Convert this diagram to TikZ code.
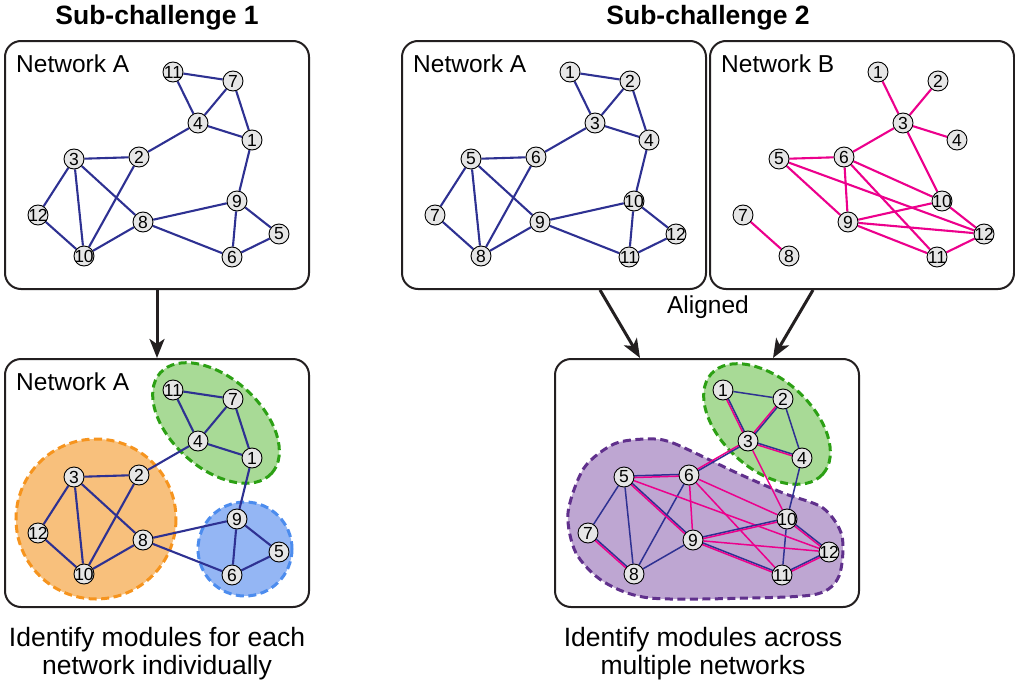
\documentclass[tikz,border=0pt]{standalone}
\usepackage{fontspec}
\setmainfont{Liberation Sans}
\usetikzlibrary{positioning,calc,arrows.meta}

\definecolor{navy}{RGB}{46,49,146}
\definecolor{pinkedge}{RGB}{236,0,140}
\definecolor{vgray}{RGB}{230,230,230}
\definecolor{ink}{RGB}{35,31,32}
\definecolor{greenfill}{RGB}{168,218,150}
\definecolor{greenline}{RGB}{44,160,20}
\definecolor{orangefill}{RGB}{248,192,124}
\definecolor{orangeline}{RGB}{246,148,30}
\definecolor{bluefill}{RGB}{148,182,244}
\definecolor{blueline}{RGB}{76,140,238}
\definecolor{purplefill}{RGB}{190,166,210}
\definecolor{purpleline}{RGB}{96,48,140}

\pgfdeclarelayer{blobs}
\pgfdeclarelayer{edges}
\pgfsetlayers{blobs,edges,main}

\newcommand{\leftnet}[1]{%
  \foreach \n/\x/\y in {11/169/32, 7/229/41, 4/194/83, 1/248/100, 3/70/119, 2/135/117,
      12/34/175, 10/80/216, 8/139/182, 9/233/161, 6/228/217, 5/275/194}
    \node[vtx] (#1\n) at (\x,\y) {\makebox[0pt]{\n}};
  \begin{pgfonlayer}{edges}
  \foreach \a/\b in {11/7, 11/4, 7/4, 7/1, 4/1, 4/2, 2/3, 2/10, 3/12, 3/10, 3/8,
      12/10, 10/8, 8/9, 8/6, 1/9, 9/6, 9/5, 5/6}
    \draw[aedge] (#1\a) -- (#1\b);
  \end{pgfonlayer}}

\newcommand{\rightnodes}[1]{%
  \foreach \n/\x/\y in {1/169/32, 2/229/41, 3/194/83, 4/248/100, 5/70/119, 6/135/117,
      7/34/175, 8/80/216, 9/139/182, 10/233/161, 11/228/217, 12/275/194}
    \node[vtx] (#1\n) at (\x,\y) {\makebox[0pt]{\n}};}

\begin{document}
\begin{tikzpicture}[x=1pt, y=-1pt,
  panel/.style={draw=ink, line width=2pt, rounded corners=16pt, minimum width=304pt,
    minimum height=248pt, anchor=north west, inner sep=0pt},
  vtx/.style={circle, draw=black, line width=0.9pt, fill=vgray, minimum size=20pt,
    inner sep=0pt, font=\fontsize{17.5}{17.5}\selectfont},
  aedge/.style={draw=navy, line width=2.1pt},
  bedge/.style={draw=pinkedge, line width=2.1pt},
  slim/.style={line width=1.5pt},
  module/.style={line width=3pt, dash pattern=on 8pt off 4.5pt},
  greenmod/.style={module, draw=greenline, fill=greenfill},
  orangemod/.style={module, draw=orangeline, fill=orangefill},
  bluemod/.style={module, draw=blueline, fill=bluefill},
  purplemod/.style={module, draw=purpleline, fill=purplefill},
  head/.style={font=\fontsize{26.5}{30}\selectfont\bfseries, inner sep=0pt, anchor=base},
  title/.style={font=\fontsize{24.5}{28}\selectfont, inner sep=0pt, anchor=base west},
  caption/.style={font=\fontsize{26.5}{28}\selectfont, align=center, inner sep=0pt},
  flow/.style={draw=ink, line width=3pt, -{Stealth[length=19pt, width=15pt, inset=5pt]}}]

\useasboundingbox (0,0) rectangle (1015,688);

\node[panel] (tl) at (4,40) {};
\node[panel] (bl) at (4,358) {};
\node[panel] (ta) at (401,40) {};
\node[panel] (tb) at (709,40) {};
\node[panel] (br) at (554,358) {};

\node[head] (h1) at ([yshift=16pt]tl.north) {Sub-challenge 1};
\node[head] (h2) at ($(ta.north east)!0.5!(tb.north west)+(0pt,16pt)$) {Sub-challenge 2};

\node[title] (tlname) at ([shift={(12pt,-32pt)}]tl.north west) {Network A};
\node[title] (blname) at ([shift={(12pt,-32pt)}]bl.north west) {Network A};
\node[title] (taname) at ([shift={(12pt,-32pt)}]ta.north west) {Network A};
\node[title] (tbname) at ([shift={(12pt,-32pt)}]tb.north west) {Network B};

\node[title, anchor=base] (aligned) at ($(ta.south east)!0.5!(tb.south west)+(0pt,-23pt)$) {Aligned};

\node[caption] (cap1) [below=19.5pt of bl] {Identify modules for each\\network individually};
\node[caption] (cap2) [below=19.5pt of br, xshift=-4pt] {Identify modules across\\multiple networks};

\draw[flow] (tl.south) -- (bl.north);
\draw[flow] ([xshift=199pt]ta.south west) -- ([xshift=86pt]br.north west);
\draw[flow] ([xshift=104pt]tb.south west) -- ([xshift=219pt]br.north west);

\begin{scope}[shift={(tl.north west)}]
  \leftnet{p}
\end{scope}

\begin{scope}[shift={(bl.north west)}]
  \begin{pgfonlayer}{blobs}
    \draw[orangemod] (92,161) circle (80);
    \draw[bluemod] (241,191) circle (47);
    \draw[greenmod, rotate around={-42:(212,65)}] (212,65) ellipse [x radius=75, y radius=45];
  \end{pgfonlayer}
  \leftnet{q}
\end{scope}

\begin{scope}[shift={(ta.north west)}]
  \rightnodes{a}
  \begin{pgfonlayer}{edges}
  \foreach \a/\b in {1/2, 1/3, 2/3, 2/4, 3/4, 3/6, 4/10, 5/6, 5/7, 5/8, 5/9, 6/8,
      7/8, 8/9, 9/10, 9/11, 10/11, 10/12, 11/12}
    \draw[aedge] (a\a) -- (a\b);
  \end{pgfonlayer}
\end{scope}

\begin{scope}[shift={(tb.north west)}]
  \rightnodes{b}
  \begin{pgfonlayer}{edges}
  \foreach \a/\b in {1/3, 2/3, 3/4, 3/6, 3/10, 5/6, 5/9, 5/12, 6/9, 6/10, 6/11,
      7/8, 9/10, 9/11, 9/12, 10/12, 11/12}
    \draw[bedge] (b\a) -- (b\b);
  \end{pgfonlayer}
\end{scope}

\begin{scope}[shift={(br.north west)}]
  \begin{pgfonlayer}{blobs}
    \draw[purplemod] plot[smooth cycle] coordinates {(93,81) (119,85) (183,115) (229,135)
      (269,150) (288,178) (285,218) (263,236) (196,240) (96,240) (50,224) (22,195)
      (14,155) (30,110) (60,86)};
    \draw[greenmod, rotate around={-42:(213,66)}] (213,66) ellipse [x radius=75, y radius=45];
  \end{pgfonlayer}
  \rightnodes{m}
  \begin{pgfonlayer}{edges}
  \foreach \a/\b in {1/2, 2/4, 4/10, 5/7, 5/8, 6/8, 8/9, 10/11}
    \draw[aedge, slim] (m\a) -- (m\b);
  \foreach \a/\b in {3/10, 5/12, 6/9, 6/10, 6/11, 9/12}
    \draw[bedge, slim] (m\a) -- (m\b);
  \foreach \a/\b in {1/3, 2/3, 3/4, 3/6, 5/6, 5/9, 7/8, 9/10, 9/11, 10/12, 11/12} {
    \draw[aedge, slim] ($(m\a.center)!0.85pt!90:(m\b.center)$) -- ($(m\b.center)!0.85pt!-90:(m\a.center)$);
    \draw[bedge, slim] ($(m\a.center)!0.85pt!-90:(m\b.center)$) -- ($(m\b.center)!0.85pt!90:(m\a.center)$);
  }
  \end{pgfonlayer}
\end{scope}
\end{tikzpicture}
\end{document}
